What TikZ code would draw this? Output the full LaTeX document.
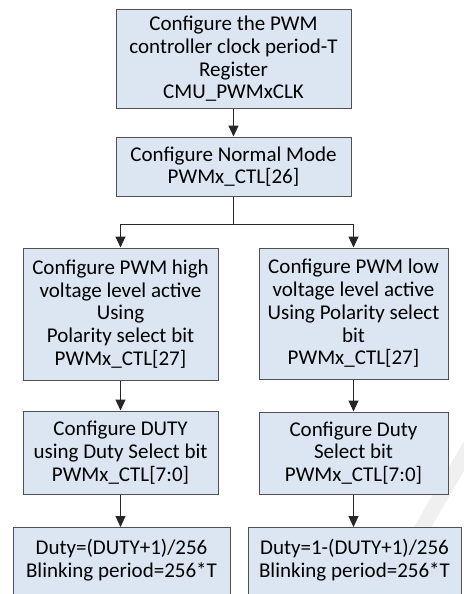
\documentclass[tikz,border=0pt]{standalone}
\usepackage{fontspec}
\setmainfont{Carlito}
\usetikzlibrary{arrows.meta}
\definecolor{boxfill}{RGB}{220,230,242}
\definecolor{boxline}{RGB}{80,80,80}
\begin{document}
\begin{tikzpicture}[x=1pt,y=-1pt,
  stepbox/.style={draw=boxline, line width=1pt, fill=boxfill, align=center,
    inner sep=0pt, font=\fontsize{21}{22.7}\selectfont},
  arr/.style={draw=black!85, line width=1pt, -{Triangle[width=10pt,length=11pt]}},
  conn/.style={draw=black!85, line width=1pt}]
\useasboundingbox (0,0) rectangle (463,594);
\fill[white] (0,0) rectangle (463,594);
% faint watermark stroke
\draw[line width=15pt, gray!12] (478,432) -- (418,535);
\node[stepbox, minimum width=235, minimum height=98] (b1) at (233.5,59)
  {Configure the PWM\\controller clock period-T\\Register\\CMU\_PWMxCLK};
\node[stepbox, minimum width=235, minimum height=59] (b2) at (233.5,166.5)
  {Configure Normal Mode\\PWMx\_CTL[26]};
\node[stepbox, minimum width=195, minimum height=132] (ml) at (120.5,314)
  {Configure PWM high\\voltage level active\\Using\\Polarity select bit\\PWMx\_CTL[27]};
\node[stepbox, minimum width=189, minimum height=131] (mr) at (353.5,313.5)
  {Configure PWM low\\voltage level active\\Using Polarity select\\bit\\PWMx\_CTL[27]};
\node[stepbox, minimum width=195, minimum height=83] (dl) at (120.5,452.5)
  {Configure DUTY\\using Duty Select bit\\PWMx\_CTL[7:0]};
\node[stepbox, minimum width=189, minimum height=82] (dr) at (353.5,453)
  {Configure Duty\\Select bit\\PWMx\_CTL[7:0]};
\node[stepbox, minimum width=217, anchor=north, inner ysep=12pt, text depth=40pt] (rl) at (121.5,527)
  {Duty=(DUTY+1)/256\\Blinking period=256*T};
\node[stepbox, minimum width=213, anchor=north, inner ysep=12pt, text depth=40pt] (rr) at (354.5,527)
  {Duty=1-(DUTY+1)/256\\Blinking period=256*T};
\coordinate (j) at (233.5,224);
\draw[arr] (b1.south) -- (b2.north);
\draw[conn] (b2.south) -- (j);
\draw[arr] (j) -| (ml.north);
\draw[arr] (j) -| (mr.north);
\draw[arr] (ml.south) -- (dl.north);
\draw[arr] (mr.south) -- (dr.north);
\draw[arr] (dl.south) -- (rl.north -| dl.south);
\draw[arr] (dr.south) -- (rr.north -| dr.south);
\end{tikzpicture}
\end{document}
